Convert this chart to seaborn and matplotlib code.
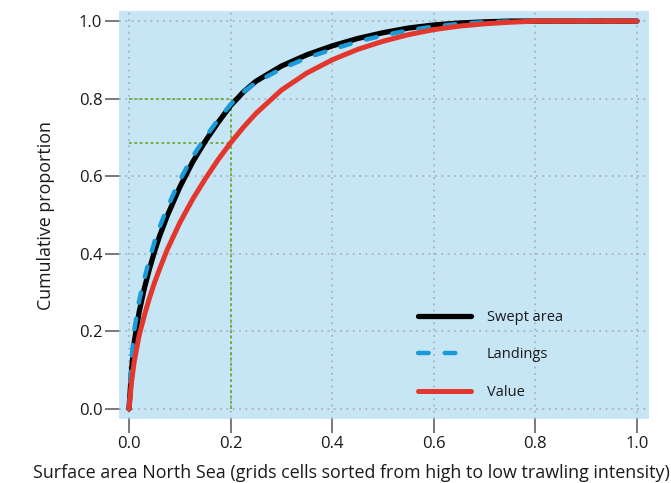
import numpy as np
import pandas as pd
import matplotlib
matplotlib.use("Agg")
import matplotlib.pyplot as plt
import seaborn as sns

# ---- data ----
surface = [0, 0.005, 0.01, 0.02, 0.03, 0.04, 0.05, 0.06, 0.075, 0.1, 0.125, 0.15,
           0.175, 0.2, 0.225, 0.25, 0.3, 0.35, 0.4, 0.45, 0.5, 0.55, 0.6, 0.65,
           0.7, 0.75, 0.8, 0.9, 1.0]
swept_area = [0, 0.10, 0.17, 0.25, 0.31, 0.36, 0.405, 0.445, 0.497, 0.572, 0.636, 0.69,
              0.738, 0.782, 0.817, 0.845, 0.884, 0.913, 0.936, 0.955, 0.970, 0.982, 0.990, 0.995,
              0.998, 1.0, 1.0, 1.0, 1.0]
landings = [0, 0.13, 0.20, 0.28, 0.335, 0.385, 0.43, 0.468, 0.518, 0.59, 0.65, 0.70,
            0.745, 0.785, 0.817, 0.842, 0.877, 0.905, 0.927, 0.947, 0.963, 0.976, 0.986, 0.993,
            0.997, 0.999, 1.0, 1.0, 1.0]
value = [0, 0.07, 0.12, 0.19, 0.24, 0.285, 0.325, 0.36, 0.41, 0.48, 0.54, 0.593,
         0.642, 0.686, 0.726, 0.762, 0.822, 0.866, 0.90, 0.927, 0.948, 0.965, 0.978, 0.987,
         0.993, 0.997, 1.0, 1.0, 1.0]
series_names = ["Swept area", "Landings", "Value"]
tick_vals = [0.0, 0.2, 0.4, 0.6, 0.8, 1.0]
tick_labels = ["0.0", "0.2", "0.4", "0.6", "0.8", "1.0"]
guide_x = 0.2
guide_y = [0.8, 0.686]

# ---- styling ----
sns.set_theme(style="white")
plt.rcParams["font.family"] = ["Open Sans", "DejaVu Sans"]

W, H = 671, 483
fig = plt.figure(figsize=(W / 100, H / 100), dpi=100)
ax = fig.add_axes([119 / W, 1 - 419 / H, 530 / W, 408 / H])
ax.set_facecolor("#c6e6f6")

colors = {"Swept area": "#000000", "Landings": "#1a9bd7", "Value": "#e3372e"}

df = pd.DataFrame({
    "x": surface * 3,
    "y": swept_area + landings + value,
    "series": [s for s in series_names for _ in surface],
})

# grid (dotted grey)
for v in tick_vals:
    ax.axvline(v, color="#a9b4ba", lw=1.3, ls=(0, (1, 2.5)), zorder=1)
    ax.axhline(v, color="#a9b4ba", lw=1.3, ls=(0, (1, 2.5)), zorder=1)

# green guide lines
ax.vlines(guide_x, 0, max(guide_y), color="#6aab2e", lw=1.3, ls=(0, (1.5, 1.5)), zorder=2)
ax.hlines(guide_y, 0, guide_x, color="#6aab2e", lw=1.3, ls=(0, (1.5, 1.5)), zorder=2)

sns.lineplot(data=df[df.series == "Swept area"], x="x", y="y", color=colors["Swept area"],
             lw=3.8, ax=ax, label="Swept area", zorder=3, solid_capstyle="round",
             solid_joinstyle="round")
sns.lineplot(data=df[df.series == "Landings"], x="x", y="y", color=colors["Landings"],
             lw=3.2, ax=ax, label="Landings", zorder=4, dashes=False)
ax.lines[-1].set_dashes((2.4, 3.6))
ax.lines[-1].set_dash_capstyle("round")
sns.lineplot(data=df[df.series == "Value"], x="x", y="y", color=colors["Value"],
             lw=3.6, ax=ax, label="Value", zorder=5, solid_capstyle="round",
             solid_joinstyle="round")

ax.set_xlim(-0.0197, 1.0236)
ax.set_ylim(-0.026, 1.026)
ax.set_xticks(tick_vals)
ax.set_xticklabels(tick_labels)
ax.set_yticks(tick_vals)
ax.set_yticklabels(tick_labels)
for s in ax.spines.values():
    s.set_visible(False)
ax.tick_params(axis="both", which="major", length=10, width=1.1, color="#555555",
               labelsize=12, labelcolor="#1a1a1a", direction="out", pad=2,
               bottom=True, left=True)
ax.set_xlabel("")
ax.set_ylabel("")

fig.text(33 / W, 1 - 473 / H, "Surface area North Sea (grids cells sorted from high to low trawling intensity)",
         fontsize=12.9, color="#1a1a1a", ha="left", va="center")
fig.text(46 / W, 1 - 215 / H, "Cumulative proportion", rotation=90, fontsize=12.9,
         color="#1a1a1a", ha="center", va="center")

leg = ax.legend(loc="lower left", bbox_to_anchor=((418 - 119) / 530, (419 - 400) / 408),
                frameon=False, fontsize=10.5, handlelength=3.6, handletextpad=1.1,
                labelspacing=1.55, borderpad=0, borderaxespad=0)
for t in leg.get_texts():
    t.set_color("#1a1a1a")

fig.savefig("out.png", dpi=100)
